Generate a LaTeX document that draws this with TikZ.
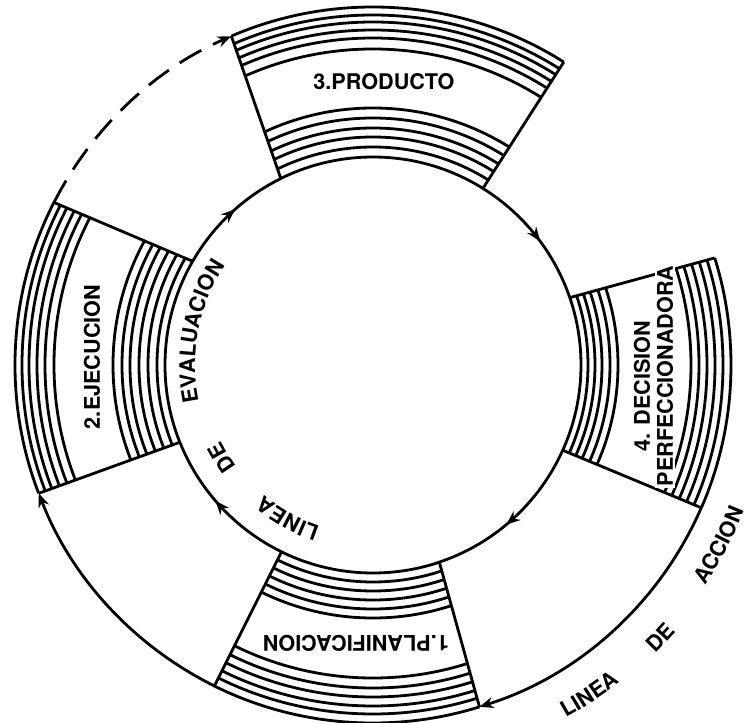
\documentclass[tikz,border=0pt]{standalone}
\usepackage{fontspec}
\setmainfont{TeX Gyre Heros}
\usetikzlibrary{calc,decorations.markings,decorations.text,arrows.meta}
\newcommand{\lblfont}{\fontsize{10.8}{13}\selectfont\bfseries}
\newcommand{\ringblock}[6]{%
  \coordinate (#1-ao) at (#2:358);
  \coordinate (#1-ai) at (#3:208);
  \coordinate (#1-bo) at (#4:358);
  \coordinate (#1-bi) at (#5:208);
  \begin{scope}
    \clip ($(#1-ai)!-0.4!(#1-ao)$) -- ($(#1-ai)!1.4!(#1-ao)$) -- ({(#2+#4)/2}:540)
      -- ($(#1-bi)!1.4!(#1-bo)$) -- ($(#1-bi)!-0.4!(#1-bo)$) -- cycle;
    \foreach \rr in {#6} \draw[ringline] (0,0) circle[radius=\rr];
  \end{scope}
  \draw[ringline] (#1-ai) -- (#1-ao);
  \draw[ringline] (#1-bi) -- (#1-bo);
}
\tikzset{
  ringline/.style={line width=1.4pt, black},
  flowline/.style={line width=1.4pt, black},
  midarrow/.style={postaction={decorate}, decoration={markings,
      mark=at position 0.55 with {\arrow{Stealth[length=7pt,width=5.5pt]}}}},
  endarrow/.style={-{Stealth[length=7pt,width=5.5pt]}},
  blocklabel/.style={font=\lblfont, inner sep=1pt},
  arctext/.style={decorate, decoration={text along path, text align=center,
      text={|\lblfont|#1}}}
}
\begin{document}
\begin{tikzpicture}[x=0.5pt,y=0.5pt]
\fill[white] (-373,-358) rectangle (378,365);
\useasboundingbox (-373,-358) rectangle (378,365);
\coordinate (O) at (0,0);

% blocks: name, outer/inner angle of first edge, outer/inner angle of second edge, radii
\ringblock{P}{113.3}{116.3}{57.8}{58.1}{358,350,343,335,327,316,257,247,237,228,218,208}
\ringblock{D}{17.4}{18.9}{-23.5}{-24.2}{358,350,342,334,326,318,245,237,229,222,215,208}
\ringblock{L}{-72.7}{-71.4}{-116.3}{-116.1}{358,349,341,332,323,313,253,244,235,226,217,208}
\ringblock{E}{201}{201.8}{153}{150.1}{358,351,344,336,328,319,260,251,243,234,225,216,208}

% inner cycle (linea de evaluacion)
\draw[flowline, midarrow] (E-bi) arc[start angle=150.1, end angle=116.3, radius=208];
\draw[flowline, midarrow] (P-bi) arc[start angle=58.1, end angle=18.9, radius=208];
\draw[flowline, midarrow] (D-bi) arc[start angle=-24.2, end angle=-71.4, radius=208];
\draw[flowline, midarrow] (L-bi) arc[start angle=-116.1, end angle=-158.2, radius=208];

% outer cycle (linea de accion)
\draw[flowline, endarrow, dash pattern=on 12.5pt off 6.5pt] (E-bo) arc[start angle=153, end angle=113.3, radius=358];
\draw[flowline, endarrow] (D-bo) arc[start angle=-23.5, end angle=-72.7, radius=358];
\draw[flowline, endarrow] (L-bo) arc[start angle=-116.3, end angle=-159, radius=358];

% block labels
\node[blocklabel] (pt) at (11,283) {3.PRODUCTO};
\node[blocklabel, rotate=90] (et) at (-281,8) {2.EJECUCION};
\node[blocklabel, rotate=180] (lt) at (-17,-278) {1.PLANIFICACION};
\node[blocklabel, rotate=90, fill=white] (dt1) at (269,-21) {4. DECISION};
\node[blocklabel, rotate=90, fill=white] (dt2) at (292,-11) {PERFECCIONADORA};

% inner curved labels (clockwise, tops outward)
\path[arctext=LINEA] (-79:170) arc[start angle=-79, end angle=-159, radius=170];
\path[arctext=DE] (-108.6:170) arc[start angle=-108.6, end angle=-188.6, radius=170];
\path[arctext=EVALUACION] (209:178) arc[start angle=209, end angle=129, radius=178];

% outer curved labels (counterclockwise, tops inward)
\path[arctext=LINEA] (-96.7:402) arc[start angle=-96.7, end angle=-16.7, radius=402];
\path[arctext=DE] (-83.5:404) arc[start angle=-83.5, end angle=-3.5, radius=404];
\path[arctext=ACCION] (-67.5:399) arc[start angle=-67.5, end angle=12.5, radius=399];
\end{tikzpicture}
\end{document}
